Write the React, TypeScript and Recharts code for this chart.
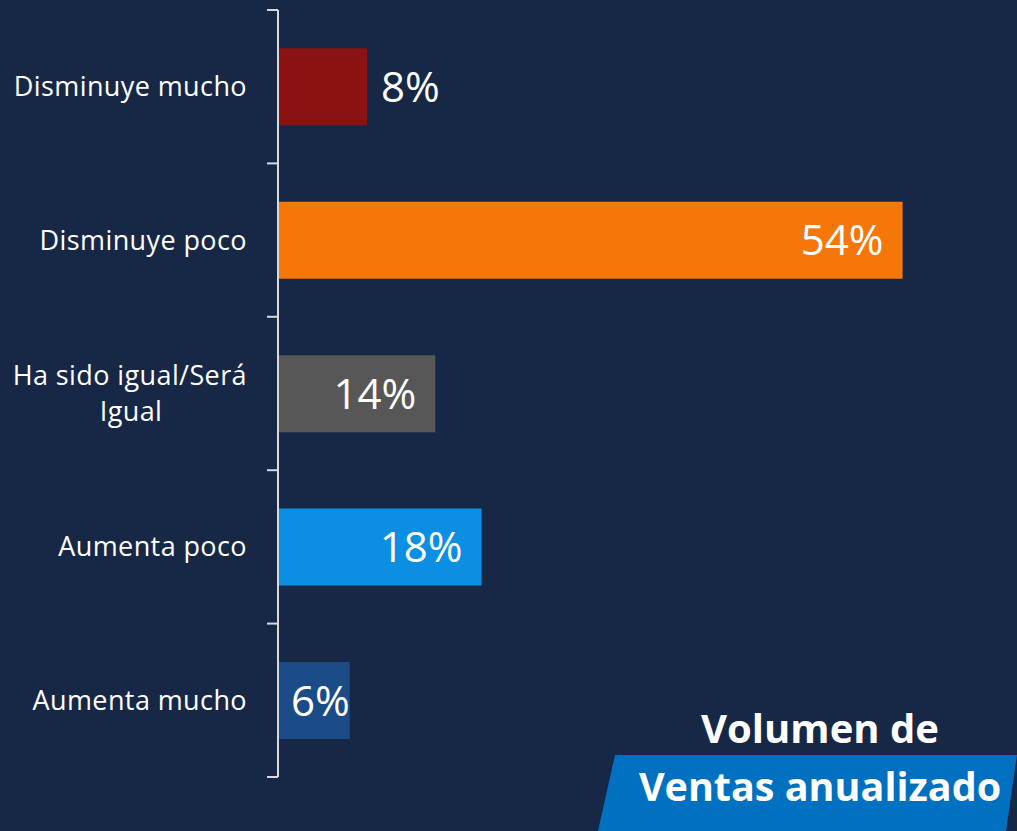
import { BarChart, Bar, XAxis, YAxis, Cell, LabelList } from "recharts";

const categories = ["Disminuye mucho", "Disminuye poco", "Ha sido igual/Será Igual", "Aumenta poco", "Aumenta mucho"];
const values = [7.7, 54, 13.6, 17.6, 6.2];
const labels = ["8%", "54%", "14%", "18%", "6%"];
const colors = ["#8A1212", "#F5770A", "#575757", "#0B8FE2", "#1C4C88"];

const data = categories.map((name, i) => ({ name, value: values[i], label: labels[i] }));

const FONT = "'Open Sans', 'Noto Sans', sans-serif";
const TICK_SIZE = 11;
const TICK_MARGIN = 20;

const CategoryTick = (props: any) => {
  const { x, y, payload, index, visibleTicksCount } = props;
  const name: string = payload.value;
  const half = payload.offset ?? 0;
  const axisX = x + TICK_SIZE + TICK_MARGIN;
  const lines = name === "Ha sido igual/Será Igual" ? ["Ha sido igual/Será", "Igual"] : [name];
  const lh = 36;
  const start = y - ((lines.length - 1) * lh) / 2;
  return (
    <g>
      <line x1={axisX - TICK_SIZE} x2={axisX} y1={y - half} y2={y - half} stroke="#D9D9D9" strokeWidth={2} />
      {index === visibleTicksCount - 1 && (
        <line x1={axisX - TICK_SIZE} x2={axisX} y1={y + half} y2={y + half} stroke="#D9D9D9" strokeWidth={2} />
      )}
      {lines.map((l, i) => (
        <text key={i} x={lines.length > 1 && i === 1 ? x - 116 : x} y={start + i * lh} dy="0.35em" textAnchor={lines.length > 1 && i === 1 ? "middle" : "end"} fill="#FFFFFF" fontSize={27} fontFamily={FONT} letterSpacing={0.4}>
          {l}
        </text>
      ))}
    </g>
  );
};

const ValueLabel = (props: any) => {
  const { x, y, width, height, index } = props;
  const text = labels[index];
  const cy = y + height / 2;
  if (index === 0) {
    return (
      <text x={x + width + 14} y={cy} dy="0.36em" textAnchor="start" fill="#FFFFFF" fontSize={42} fontFamily={FONT}>
        {text}
      </text>
    );
  }
  const off = width < 80 ? 0 : 19;
  return (
    <text x={x + width - off} y={cy} dy="0.36em" textAnchor="end" fill="#FFFFFF" fontSize={42} fontFamily={FONT}>
      {text}
    </text>
  );
};

export default function App() {
  return (
    <div style={{ position: "absolute", left: 0, top: 0, width: 1017, height: 831, background: "#172846", overflow: "hidden", fontFamily: FONT }}>
      <BarChart
        layout="vertical"
        width={1017}
        height={831}
        data={data}
        margin={{ top: 10, right: 45, bottom: 54, left: 0 }}
        barCategoryGap="25%"
      >
        <XAxis type="number" domain={[0, 60]} hide />
        <YAxis
          type="category"
          dataKey="name"
          width={278}
          axisLine={{ stroke: "#D9D9D9", strokeWidth: 2 }}
          tickLine={false}
          tickSize={TICK_SIZE}
          tick={<CategoryTick />}
          tickMargin={TICK_MARGIN}
          interval={0}
        />
        <Bar dataKey="value" isAnimationActive={false}>
          {data.map((d, i) => (
            <Cell key={d.name} fill={colors[i]} />
          ))}
          <LabelList dataKey="label" content={<ValueLabel />} />
        </Bar>
      </BarChart>
      <svg width={1017} height={831} style={{ position: "absolute", left: 0, top: 0, pointerEvents: "none" }}>
        <polygon points="615,755 1017,755 1006,831 598,831" fill="#0070C0" />
        <text x={820} y={743} textAnchor="middle" fill="#FFFFFF" fontSize={40} fontWeight={700} fontFamily={FONT}>
          Volumen de
        </text>
        <text x={820} y={801} textAnchor="middle" fill="#FFFFFF" fontSize={39.5} fontWeight={700} fontFamily={FONT}>
          Ventas anualizado
        </text>
      </svg>
    </div>
  );
}
